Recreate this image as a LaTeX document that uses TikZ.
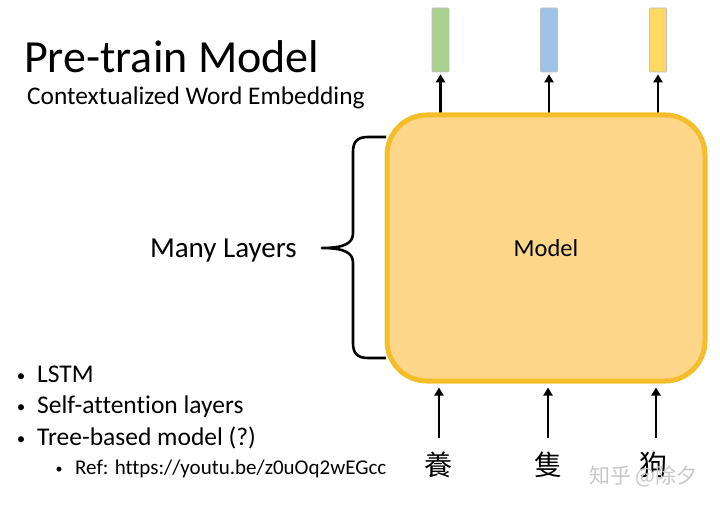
\documentclass[tikz,border=0pt]{standalone}
\usepackage{fontspec}
\setmainfont{Carlito}[Ligatures=NoCommon]
\newfontfamily\cjktc{Noto Sans CJK TC}
\newfontfamily\cjksc{Noto Sans CJK SC}
\usetikzlibrary{arrows.meta}
\definecolor{boxfill}{HTML}{FDD68A}
\definecolor{boxedge}{HTML}{F4BE2A}
\definecolor{vgreen}{HTML}{A9D18E}
\definecolor{vblue}{HTML}{9DC3E6}
\definecolor{vyellow}{HTML}{FFD966}
\definecolor{wmark}{HTML}{C8C8C8}
\tikzset{
  arr/.style={line width=2.6pt, -{Triangle[length=8pt,width=9pt]}},
  vec/.style={draw=black!25, line width=0.6pt, minimum width=17pt, minimum height=64pt, inner sep=0pt, rounded corners=1pt},
  txt/.style={anchor=base west, inner sep=0pt},
  chr/.style={inner sep=0pt, font=\cjktc\fontsize{28}{30}\selectfont},
  bul/.style={anchor=base, inner sep=0pt},
}
\begin{document}
\begin{tikzpicture}[x=1pt,y=-1pt]
\useasboundingbox[fill=white] (0,0) rectangle (720,505);

% titles
\node[txt, font=\fontsize{46}{50}\selectfont] (title) at (24,73) {Pre-train Model};
\node[txt, font=\fontsize{25.4}{28}\selectfont] (sub) at (27,105) {Contextualized Word Embedding};

% output vectors
\node[vec, fill=vgreen] (v1) at (440.5,40) {};
\node[vec, fill=vblue] (v2) at (549,40) {};
\node[vec, fill=vyellow] (v3) at (658,40) {};

% input characters
\node[chr] (c1) at (438,465) {養};
\node[chr] (c2) at (548,465) {隻};
\node[chr] (c3) at (653,465) {狗};
\coordinate (b1) at (439,438);
\coordinate (b2) at (548,438);
\coordinate (b3) at (656,438);

% arrows out of model
\draw[arr, shorten >=2pt] (v1.south |- 0,114) -- (v1.south);
\draw[arr, shorten >=2pt] (v2.south |- 0,114) -- (v2.south);
\draw[arr, shorten >=2pt] (v3.south |- 0,114) -- (v3.south);

% model
\node[draw=boxedge, line width=5pt, fill=boxfill, rounded corners=40pt,
      minimum width=318pt, minimum height=266pt, inner sep=0pt,
      font=\fontsize{24.5}{27}\selectfont] (model) at (546,248) {Model};

% arrows into model
\draw[arr, shorten >=4pt] (b1) -- (b1 |- model.south);
\draw[arr, shorten >=4pt] (b2) -- (b2 |- model.south);
\draw[arr, shorten >=4pt] (b3) -- (b3 |- model.south);

% brace
\draw[line width=2.6pt, line join=round] (386,137) -- (368,137)
  .. controls (357,137) and (353,142) .. (353,152) -- (353,233)
  .. controls (353,243) and (345,248) .. (322,248)
  .. controls (345,248) and (353,253) .. (353,263) -- (353,343)
  .. controls (353,353) and (357,358) .. (368,358) -- (386,358);
\node[anchor=base east, inner sep=0pt, font=\fontsize{29}{32}\selectfont] (layers) at (297,257) {Many Layers};

% bullets
\node[bul, font=\fontsize{17}{20}\selectfont] (d1) at (21,381) {•};
\node[txt, font=\fontsize{25.5}{28}\selectfont] (l1) at (37,382) {LSTM};
\node[bul, font=\fontsize{17}{20}\selectfont] (d2) at (21,412) {•};
\node[txt, font=\fontsize{25.5}{28}\selectfont] (l2) at (37,413) {Self-attention layers};
\node[bul, font=\fontsize{17}{20}\selectfont] (d3) at (21,444) {•};
\node[txt, font=\fontsize{25.5}{28}\selectfont] (l3) at (37,445) {Tree-based model (?)};
\node[bul, font=\fontsize{14}{18}\selectfont] (d4) at (59,473) {•};
\node[txt, font=\fontsize{21}{24}\selectfont] (l4) at (75,474) {Ref: https://youtu.be/z0uOq2wEGcc};

% watermark
\node[anchor=base west, inner sep=0pt, text=wmark, font=\cjksc\fontsize{21}{24}\selectfont] (wm) at (589,483) {知乎 @除夕};
\end{tikzpicture}
\end{document}
